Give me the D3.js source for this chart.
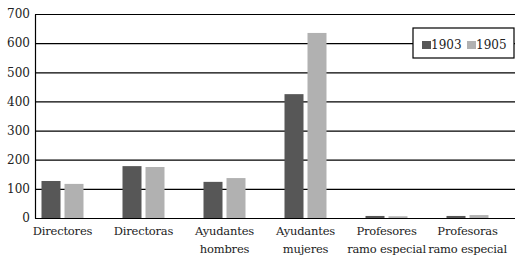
<!DOCTYPE html>
<html>
<head>
<meta charset="utf-8">
<script src="https://cdn.jsdelivr.net/npm/d3@7"></script>
<style>
  body { margin: 0; background: #fff; }
</style>
</head>
<body>
<svg id="chart" width="529" height="261"></svg>
<script>
// categories and series
const categories = [
  ["Directores"],
  ["Directoras"],
  ["Ayudantes", "hombres"],
  ["Ayudantes", "mujeres"],
  ["Profesores", "ramo especial"],
  ["Profesoras", "ramo especial"],
];
const years = ["1903", "1905"];
const values1903 = [127, 178, 124, 425, 7, 7];
const values1905 = [117, 175, 137, 635, 6, 10];
const yTicks = [0, 100, 200, 300, 400, 500, 600, 700];

const colors = { "1903": "#575757", "1905": "#b1b1b1" };
const FONT = "DejaVu Serif";
const FS = 12;

const svg = d3.select("#chart").attr("font-family", FONT);
const margin = { top: 14, right: 14, bottom: 43, left: 35 };
const width = 529, height = 261;
const innerW = width - margin.left - margin.right;
const innerH = height - margin.top - margin.bottom;

const g = svg.append("g").attr("transform", `translate(${margin.left},${margin.top})`);

// category bands (a bit wider than the plot, like the original)
const x = d3.scaleBand().domain(d3.range(categories.length)).range([-13, 473]);
const groupW = 42;
const x1 = d3.scaleBand().domain(years).range([0, groupW]).paddingInner(4 / 23);
const y = d3.scaleLinear().domain([0, 700]).range([innerH, 0]);

// gridlines (baseline at 0 included)
g.append("g")
  .call(d3.axisLeft(y).tickValues(yTicks).tickSize(-innerW).tickFormat(""))
  .call((s) => s.select(".domain").remove())
  .selectAll("line")
  .attr("stroke", "#000")
  .attr("stroke-width", 1.2);

// bars
const rows = categories.map((c, i) => ({ i, vals: [values1903[i], values1905[i]] }));
const groups = g.selectAll(".grp").data(rows).join("g")
  .attr("transform", (d) => `translate(${x(d.i) + (x.bandwidth() - groupW) / 2},0)`);
groups.selectAll("rect")
  .data((d) => d.vals.map((v, k) => ({ year: years[k], v })))
  .join("rect")
  .attr("x", (d) => x1(d.year))
  .attr("width", x1.bandwidth())
  .attr("y", (d) => y(d.v))
  .attr("height", (d) => innerH - y(d.v))
  .attr("fill", (d) => colors[d.year]);

// y axis
const yAxis = g.append("g").call(d3.axisLeft(y).tickValues(yTicks).tickSize(0).tickPadding(5))
  .attr("font-family", FONT).attr("font-size", FS);
yAxis.select(".domain").attr("stroke", "#000").attr("stroke-width", 1.2);
yAxis.selectAll("text").attr("fill", "#222");

// x axis labels
const xAxis = g.append("g").attr("transform", `translate(0,${innerH})`)
  .call(d3.axisBottom(x).tickSize(0).tickFormat(""))
  .attr("font-family", FONT).attr("font-size", 11.5);
xAxis.select(".domain").remove();
xAxis.selectAll(".tick").each(function (d) {
  const t = d3.select(this).append("text")
    .attr("text-anchor", "middle")
    .attr("letter-spacing", -0.2)
    .attr("fill", "#222");
  categories[d].forEach((line, k) => {
    t.append("tspan").attr("x", 0).attr("y", 17 + k * 18).text(line);
  });
});

// legend
const leg = svg.append("g").attr("transform", "translate(413,28)").attr("font-size", FS);
leg.append("rect").attr("width", 101).attr("height", 30)
  .attr("fill", "#fff").attr("stroke", "#000").attr("stroke-width", 1.2);
years.forEach((yr, k) => {
  const lx = 9 + k * 45;
  leg.append("rect").attr("x", lx).attr("y", 13).attr("width", 9).attr("height", 8).attr("fill", colors[yr]);
  leg.append("text").attr("x", lx + 9).attr("y", 21).attr("fill", "#222").text(yr);
});
</script>
</body>
</html>
